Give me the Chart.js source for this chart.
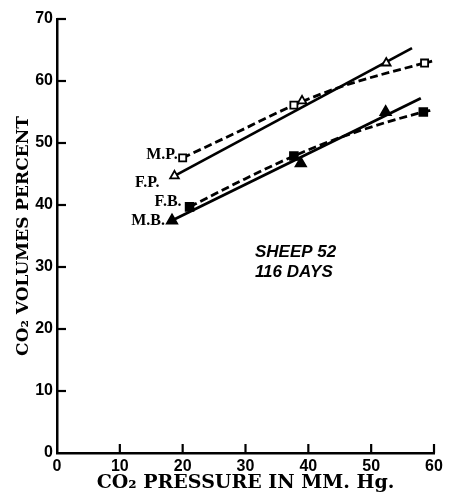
<!DOCTYPE html>
<html>
<head>
<meta charset="utf-8">
<script src="https://cdn.jsdelivr.net/npm/chart.js@4.4.1/dist/chart.umd.min.js"></script>
<style>
  html, body { margin: 0; padding: 0; background: #fff; }
  #wrap { width: 449px; height: 495px; }
</style>
</head>
<body>
<div id="wrap"><canvas id="chart" width="449" height="495"></canvas></div>
<script>
// plotted points (x = CO2 pressure mm Hg, y = vol %)
const mpX = [20.0, 37.7, 58.5];
const mpY = [47.6, 56.1, 62.9];
const fpX = [18.7, 39.0, 52.4];
const fpY = [44.7, 56.8, 62.9];
const fbX = [21.1, 37.7, 58.3];
const fbY = [39.7, 47.9, 55.0];
const mbX = [18.3, 38.8, 52.3];
const mbY = [37.5, 46.7, 55.0];

// the drawn curves (dashed) and straight lines (solid)
const mpCurveX = [20.0, 29.0, 37.7, 45.0, 58.5, 59.7];
const mpCurveY = [47.6, 51.9, 56.1, 59.0, 62.9, 63.2];
const fbCurveX = [21.1, 29.5, 37.7, 46.5, 58.3, 59.7];
const fbCurveY = [39.7, 44.0, 47.9, 51.4, 55.0, 55.3];
const fpLineX = [18.7, 56.5];
const fpLineY = [44.7, 65.3];
const mbLineX = [18.3, 57.9];
const mbLineY = [37.5, 57.2];

const xTicks = [0, 10, 20, 30, 40, 50, 60];
const yTicks = [0, 10, 20, 30, 40, 50, 60, 70];
const seriesNames = ["M.P.", "F.P.", "F.B.", "M.B."];
const noteLines = ["SHEEP 52", "116 DAYS"];

const pts = (xs, ys) => xs.map((x, i) => ({ x: x, y: ys[i] }));

const lineBase = { showLine: true, pointRadius: 0, borderColor: "#000", borderWidth: 2.8, fill: false, order: 2 };
const markBase = { showLine: false, borderColor: "#000", borderWidth: 1.8, order: 0 };

// inward tick marks + series labels + note text
const decor = {
    id: "decor",
    afterDraw(chart) {
        const ctx = chart.ctx;
        const xs = chart.scales.x, ys = chart.scales.y;
        const area = chart.chartArea;
        ctx.save();
        ctx.strokeStyle = "#000";
        ctx.lineWidth = 2.2;
        xTicks.forEach(v => {
            if (v === 0) return;
            const px = xs.getPixelForValue(v);
            ctx.beginPath(); ctx.moveTo(px, area.bottom); ctx.lineTo(px, area.bottom - 9); ctx.stroke();
        });
        yTicks.forEach(v => {
            if (v === 0) return;
            const py = ys.getPixelForValue(v);
            ctx.beginPath(); ctx.moveTo(area.left, py); ctx.lineTo(area.left + 9, py); ctx.stroke();
        });

        // labels next to the first point of each series
        ctx.fillStyle = "#000";
        ctx.font = "bold 16px 'Liberation Serif'";
        ctx.textAlign = "right";
        ctx.textBaseline = "middle";
        const firsts = [[mpX[0], mpY[0], -5, -3], [fpX[0], fpY[0], -15, 7], [fbX[0], fbY[0], -8, -5], [mbX[0], mbY[0], -7, 0]];
        firsts.forEach((f, i) => {
            ctx.fillText(seriesNames[i], xs.getPixelForValue(f[0]) + f[2], ys.getPixelForValue(f[1]) + f[3]);
        });

        ctx.font = "italic bold 17px 'Liberation Sans'";
        ctx.textAlign = "left";
        ctx.fillText(noteLines[0], xs.getPixelForValue(31.5), ys.getPixelForValue(32.4));
        ctx.fillText(noteLines[1], xs.getPixelForValue(31.5), ys.getPixelForValue(29.2));
        ctx.restore();
    }
};

new Chart(document.getElementById("chart"), {
    type: "scatter",
    data: {
        datasets: [
            Object.assign({}, lineBase, { data: pts(fpLineX, fpLineY) }),
            Object.assign({}, lineBase, { data: pts(mbLineX, mbLineY) }),
            Object.assign({}, lineBase, { data: pts(mpCurveX, mpCurveY), borderDash: [8, 4], tension: 0.4, cubicInterpolationMode: "monotone" }),
            Object.assign({}, lineBase, { data: pts(fbCurveX, fbCurveY), borderDash: [8, 4], tension: 0.4, cubicInterpolationMode: "monotone" }),
            Object.assign({}, markBase, { data: pts(mpX, mpY), pointStyle: "rect", pointRadius: 5, backgroundColor: "#fff" }),
            Object.assign({}, markBase, { data: pts(fpX, fpY), pointStyle: "triangle", pointRadius: 5, backgroundColor: "#fff" }),
            Object.assign({}, markBase, { data: pts(fbX, fbY), pointStyle: "rect", pointRadius: 5.5, backgroundColor: "#000" }),
            Object.assign({}, markBase, { data: pts(mbX, mbY), pointStyle: "triangle", pointRadius: 6, backgroundColor: "#000" })
        ]
    },
    options: {
        responsive: false,
        animation: false,
        layout: { padding: { top: 19, right: 15, left: 0, bottom: 0 } },
        plugins: { legend: { display: false }, tooltip: { enabled: false } },
        scales: {
            x: {
                type: "linear", min: 0, max: 60,
                afterBuildTicks: s => { s.ticks = xTicks.map(v => ({ value: v })); },
                afterFit: s => { s.height = 42; },
                grid: { display: false, drawTicks: false },
                border: { display: true, color: "#000", width: 2.5 },
                ticks: { color: "#000", padding: 4, maxRotation: 0, font: { family: "'Liberation Sans'", weight: "bold", size: 16 } },
                title: { display: true, text: "CO₂ PRESSURE IN MM. Hg.", color: "#000", padding: { top: 0, bottom: 1 }, font: { family: "'DejaVu Serif'", weight: "bold", size: 19 } }
            },
            y: {
                type: "linear", min: 0, max: 70,
                afterBuildTicks: s => { s.ticks = yTicks.map(v => ({ value: v })); },
                afterFit: s => { s.width = 57; },
                grid: { display: false, drawTicks: false },
                border: { display: true, color: "#000", width: 2.5 },
                ticks: { color: "#000", padding: 4, font: { family: "'Liberation Sans'", weight: "bold", size: 16 } },
                title: { display: true, text: "CO₂ VOLUMES PERCENT", color: "#000", padding: { top: 13, bottom: 0 }, font: { family: "'DejaVu Serif'", weight: "bold", size: 17 } }
            }
        }
    },
    plugins: [decor]
});
</script>
</body>
</html>
